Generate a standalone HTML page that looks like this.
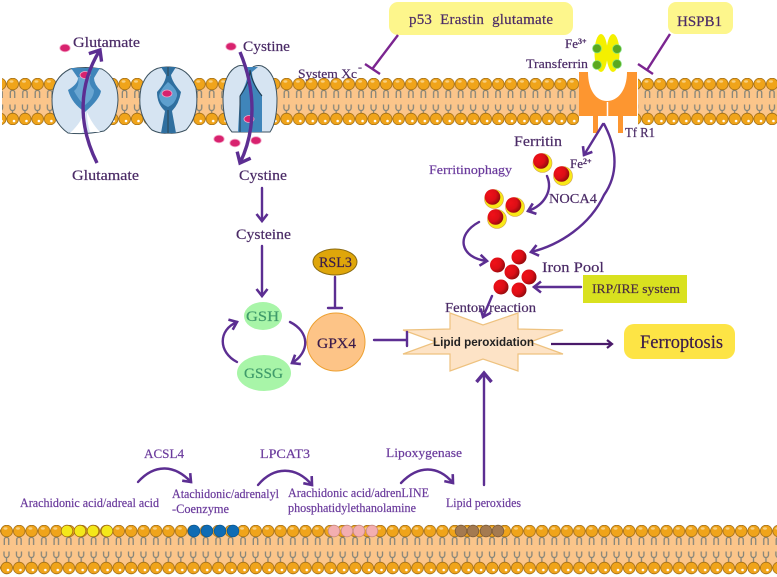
<!DOCTYPE html>
<html><head><meta charset="utf-8"><style>
html,body{margin:0;padding:0;background:#fff}
svg{display:block}
text{font-family:"Liberation Serif",serif;font-size:15px;fill:#4a2a66;stroke:#4a2a66;stroke-width:.2}
.l{fill:#6a3a9c;stroke:#6a3a9c;font-size:13px}
.a{fill:none;stroke:#5c2e92;stroke-width:2.4;stroke-linecap:round}
</style></head><body>
<svg width="777" height="577" viewBox="0 0 777 577" xmlns="http://www.w3.org/2000/svg">
<defs>
<marker id="m" markerUnits="userSpaceOnUse" markerWidth="16" markerHeight="16" refX="9" refY="7" orient="auto"><path d="M2 1.500L9 7L2 12.500" fill="none" stroke="#5c2e92" stroke-width="2.600"/></marker>
<marker id="mb" markerUnits="userSpaceOnUse" markerWidth="20" markerHeight="20" refX="12" refY="9" orient="auto"><path d="M3 1.500L12 9L3 16.500" fill="none" stroke="#5c2e92" stroke-width="3.400"/></marker>
<marker id="md" markerUnits="userSpaceOnUse" markerWidth="12" markerHeight="12" refX="7" refY="5" orient="auto"><path d="M2 1L7 5L2 9" fill="none" stroke="#4a1a6a" stroke-width="2.200"/></marker>
<radialGradient id="r" cx=".3" cy=".35" r=".85"><stop offset="0" stop-color="#f01018"/><stop offset=".5" stop-color="#dc0e16"/><stop offset="1" stop-color="#740808"/></radialGradient>
<pattern id="lip" patternUnits="userSpaceOnUse" width="12.45" height="47" patternTransform="translate(6.5 78)">
<rect x="0" y="6" width="12.45" height="35" fill="#fbc58a"/>
<g fill="none" stroke="#85857a" stroke-width="1.300">
<path d="M3.800 20V14.500a2.200 2.200 0 0 1 4.400 0V20"/>
<path d="M3.500 26.500V30a2.500 2.500 0 0 0 5 0V26.500M6 32.500V35"/>
<path d="M6 11V12"/>
</g>
<circle cx="6.200" cy="6" r="5.800" fill="#f0a41a" stroke="#a06c14" stroke-width=".8"/>
<circle cx="6.200" cy="41" r="5.800" fill="#f0a41a" stroke="#a06c14" stroke-width=".8"/>
<ellipse cx="5" cy="3.500" rx="2" ry="1.200" fill="#f8d080"/>
<circle cx="7.500" cy="43" r="1.300" fill="#fff"/>
</pattern>
<pattern id="lip2" patternUnits="userSpaceOnUse" width="12.45" height="52" patternTransform="translate(0.500 525)">
<rect x="0" y="6" width="12.45" height="37" fill="#fbc58a"/>
<g fill="none" stroke="#85857a" stroke-width="1.300">
<path d="M3.800 20V14.500a2.200 2.200 0 0 1 4.400 0V20"/>
<path d="M3.500 26.500V30a2.500 2.500 0 0 0 5 0V26.500M6 32.500V37"/>
</g>
<circle cx="6.200" cy="6" r="5.800" fill="#f0a41a" stroke="#a06c14" stroke-width=".8"/>
<circle cx="6.200" cy="43" r="5.800" fill="#f0a41a" stroke="#a06c14" stroke-width=".8"/>
<ellipse cx="5" cy="3.500" rx="2" ry="1.200" fill="#f8d080"/>
<circle cx="7.500" cy="45" r="1.300" fill="#fff"/>
</pattern>
</defs>

<!-- top membrane -->
<rect x="2" y="78" width="775" height="47" fill="url(#lip)"/>
<!-- bottom membrane -->
<rect x="0" y="525" width="777" height="50" fill="url(#lip2)"/>
<g stroke="#a06c14" stroke-width=".8">
<circle cx="67" cy="531" r="5.800" fill="#f4e81a"/><circle cx="80" cy="531" r="5.800" fill="#f4e81a"/><circle cx="93" cy="531" r="5.800" fill="#f4e81a"/><circle cx="107" cy="531" r="5.800" fill="#f4e81a"/>
<g fill="#0f6cb4" stroke="#0a5a98"><circle cx="194" cy="531" r="5.800"/><circle cx="207" cy="531" r="5.800"/><circle cx="220" cy="531" r="5.800"/><circle cx="233" cy="531" r="5.800"/></g>
<g fill="#f3aeb0" stroke="#c88a80"><circle cx="334" cy="531" r="5.800"/><circle cx="347" cy="531" r="5.800"/><circle cx="359" cy="531" r="5.800"/><circle cx="372" cy="531" r="5.800"/></g>
<g fill="#a47a50" stroke="#7a5a38"><circle cx="461" cy="531" r="5.800"/><circle cx="473" cy="531" r="5.800"/><circle cx="486" cy="531" r="5.800"/><circle cx="498" cy="531" r="5.800"/></g>
</g>

<!-- channel 1 -->
<g>
<path d="M70 69Q85 66 102 69Q118 78 118 100Q117 122 104 131Q85 135 68 133Q52 122 52 100Q52 78 70 69Z" fill="#d6e4f2" stroke="#3c5260" stroke-width="1"/>
<path d="M71 68H100L94 78Q94 84 101 91Q100 99 85 112Q72 104 68 90Q78 84 78 78Z" fill="#3f85ba"/>
<path d="M78 77Q80 86 74 91Q80 102 85 105Q94 98 94 90Q88 84 90 77Z" fill="#6aa6d2"/>
<path d="M85 112Q80 124 70 133H82Q88 124 85 112ZM87 112Q92 124 100 132H90Q87 122 87 112Z" fill="#fff"/>
</g>
<!-- channel 2 -->
<g>
<path d="M168 67Q148 66 141 88Q136 115 152 130Q160 134 168 133Q177 134 186 130Q200 115 196 88Q188 66 168 67Z" fill="#d6e4f2" stroke="#3c5260" stroke-width="1"/>
<path d="M161 67H176L171 75Q172 82 181 92Q179 104 172 111L176 133H161L165 111Q157 104 157 92Q166 82 166 75Z" fill="#2f6f9f"/>
<path d="M168 82Q178 90 177 96Q175 104 168 107Q160 104 159 96Q160 90 168 82Z" fill="#5d9fce"/>
<path d="M168 67V76M168 110V133" stroke="#2c4450" stroke-width="1"/>
</g>
<!-- channel 3 -->
<g>
<path d="M238 66Q224 72 223 98Q223 122 232 132H270Q277 122 277 98Q276 72 262 66Q254 64 250 70Q244 64 238 66Z" fill="#d6e4f2" stroke="#3c5260" stroke-width="1"/>
<path d="M244 67H258L252 72Q252 82 262 95L262 132H238L240 95Q247 84 248 72Z" fill="#3f85ba"/>
<path d="M250 70Q250 82 240 96V132M250 70Q252 84 262 96" fill="none" stroke="#20384a" stroke-width="1"/>
</g>

<!-- pink molecules -->
<g fill="#d8226e" stroke="#f4a6c8" stroke-width=".8">
<ellipse cx="65" cy="48" rx="5.200" ry="3.800"/><ellipse cx="85" cy="75" rx="5" ry="3.500"/><ellipse cx="167" cy="93.500" rx="5" ry="3.500"/><ellipse cx="231" cy="46.500" rx="5.200" ry="3.800"/><ellipse cx="249" cy="119" rx="5" ry="3.500"/><ellipse cx="219" cy="139" rx="5.200" ry="3.800"/><ellipse cx="235" cy="143" rx="5.200" ry="3.800"/><ellipse cx="256" cy="140.500" rx="5.200" ry="3.800"/>
</g>

<!-- transporter arrows -->
<path d="M97 163C78 125 78 85 100 50" fill="none" stroke="#5c2e92" stroke-width="3.400" marker-end="url(#mb)"/>
<path d="M240 52C256 90 256 130 240 163" fill="none" stroke="#5c2e92" stroke-width="3.400" marker-end="url(#mb)"/>

<!-- labels top -->
<text x="73" y="47" textLength="67" lengthAdjust="spacingAndGlyphs">Glutamate</text>
<text x="243" y="51" textLength="47" lengthAdjust="spacingAndGlyphs">Cystine</text>
<text x="72" y="180" textLength="67" lengthAdjust="spacingAndGlyphs">Glutamate</text>
<text x="239" y="180" textLength="48" lengthAdjust="spacingAndGlyphs">Cystine</text>
<text x="236" y="239" textLength="55" lengthAdjust="spacingAndGlyphs">Cysteine</text>
<text x="298" y="78" textLength="59" lengthAdjust="spacingAndGlyphs" style="font-size:13px">System Xc</text>
<text x="358" y="71" style="font-size:12px">-</text>

<!-- yellow boxes -->
<rect x="389" y="2" width="184" height="33" rx="9" fill="#fdf68c"/>
<text x="409" y="24" textLength="144" lengthAdjust="spacing">p53&#160;&#160;Erastin&#160;&#160;glutamate</text>
<rect x="668" y="2" width="65" height="32" rx="8" fill="#fdf68c"/>
<text x="677" y="26" textLength="45" lengthAdjust="spacingAndGlyphs">HSPB1</text>

<path d="M398 35L373 68M365 64L380 74" fill="none" stroke="#7b2590" stroke-width="2.400"/>
<path d="M670 34L647 70M638 64L653 74" fill="none" stroke="#7b2590" stroke-width="2.400"/>

<!-- transferrin -->
<ellipse cx="601" cy="53" rx="6.500" ry="19" fill="#f4f000"/>
<ellipse cx="613" cy="53" rx="6.500" ry="19" fill="#f4f000"/>
<g fill="#5aa820" stroke="#7ee07a" stroke-width=".8"><circle cx="597" cy="48.500" r="4.400"/><circle cx="617" cy="49" r="4.400"/><circle cx="597" cy="65" r="4.400"/><circle cx="617" cy="64" r="4.400"/></g>
<text x="565" y="48" style="font-size:13px">Fe<tspan dy="-4" style="font-size:8px;font-weight:bold">3+</tspan></text>
<text x="526" y="68" textLength="62" lengthAdjust="spacingAndGlyphs" style="font-size:13px">Transferrin</text>

<!-- TfR1 -->
<rect x="579" y="72" width="59" height="54" fill="#fff"/>
<path d="M579 72H588C588 90 596 101 607 101C618 101 627 90 627 72H637V116H579Z" fill="#fd9630"/>
<rect x="593" y="116" width="5" height="17" fill="#fd9630"/>
<rect x="618" y="116" width="5" height="17" fill="#fd9630"/>
<path d="M607.500 102V120" stroke="#fff" stroke-width="1.500"/>
<text x="625" y="137" textLength="30" lengthAdjust="spacingAndGlyphs" style="font-size:14px">Tf R1</text>

<!-- iron section -->
<text x="514" y="146" textLength="48" lengthAdjust="spacingAndGlyphs">Ferritin</text>
<text x="570" y="168" style="font-size:13px">Fe<tspan dy="-4" style="font-size:8px;font-weight:bold">2+</tspan></text>
<text x="429" y="174" textLength="83" lengthAdjust="spacingAndGlyphs" class="l">Ferritinophagy</text>
<text x="549" y="203" textLength="48" lengthAdjust="spacingAndGlyphs" style="font-size:14px">NOCA4</text>
<text x="542" y="272" textLength="62" lengthAdjust="spacingAndGlyphs">Iron Pool</text>

<g>
<g fill="#f8e818" stroke="#d0a050" stroke-width=".6"><circle cx="542.500" cy="163" r="9.500"/><circle cx="563" cy="176" r="9.500"/><circle cx="494" cy="199" r="9.500"/><circle cx="515" cy="207" r="9.500"/><circle cx="497" cy="219" r="9.500"/></g>
<g fill="url(#r)"><circle cx="541" cy="161" r="7.800"/><circle cx="561.500" cy="174" r="7.800"/><circle cx="492.500" cy="197" r="7.800"/><circle cx="513.500" cy="205" r="7.800"/><circle cx="495.500" cy="217" r="7.800"/></g>
<g fill="url(#r)"><circle cx="497.500" cy="265" r="7.500"/><circle cx="519" cy="257" r="7.500"/><circle cx="512" cy="272" r="7.500"/><circle cx="529" cy="277" r="7.500"/><circle cx="501" cy="287" r="7.500"/><circle cx="519" cy="290" r="7.500"/></g>
</g>

<path class="a" d="M603 124L584 155" marker-end="url(#m)"/>
<path class="a" d="M604 124C618 150 618 175 604 195C590 225 560 245 531 252" marker-end="url(#m)"/>
<path class="a" d="M547 176C553 190 545 205 528 211" marker-end="url(#m)"/>
<path class="a" d="M479 222C455 235 460 258 487 261" marker-end="url(#m)"/>

<rect x="583" y="275" width="104" height="28" fill="#d9e11f"/>
<text x="592" y="293" textLength="88" lengthAdjust="spacingAndGlyphs" style="font-size:13px;fill:#4a2c40;stroke:#4a2c40">IRP/IRE system</text>
<path class="a" d="M581 287H534" marker-end="url(#m)"/>

<!-- star -->
<path d="M450 313L483 325L518 313V329L563 330L530 342L563 354L518 354V371L483 359L450 371V354L403 354L436 342L403 330L450 329Z" fill="#fde3c6" stroke="#eec27f" stroke-width="1.200"/>
<text x="433" y="346" textLength="101" lengthAdjust="spacingAndGlyphs" style="font-family:'Liberation Sans',sans-serif;font-weight:bold;font-size:12px;fill:#222;stroke:none">Lipid peroxidation</text>
<text x="445" y="312" textLength="91" lengthAdjust="spacingAndGlyphs" style="font-size:13.500px">Fenton reaction</text>
<path class="a" d="M492 296L483 317" marker-end="url(#m)"/>
<path d="M551 344H612" fill="none" stroke="#4a1a6a" stroke-width="2.200" marker-end="url(#md)"/>

<rect x="624" y="324" width="111" height="35" rx="10" fill="#fde445"/>
<text x="640" y="348" textLength="83" lengthAdjust="spacingAndGlyphs" style="font-size:19px;fill:#3a1a4a;stroke:#3a1a4a">Ferroptosis</text>

<!-- GSH cycle -->
<path class="a" d="M262 188V221" marker-end="url(#m)"/>
<path class="a" d="M262 246V296" marker-end="url(#m)"/>
<ellipse cx="263" cy="316" rx="19" ry="14" fill="#a8f5a8"/>
<text x="246" y="321" textLength="33" lengthAdjust="spacingAndGlyphs" style="fill:#3f9a6a;stroke:#3f9a6a">GSH</text>
<ellipse cx="264" cy="373" rx="27" ry="18" fill="#a8f5a8"/>
<text x="244" y="378" textLength="39" lengthAdjust="spacingAndGlyphs" style="fill:#3f9a6a;stroke:#3f9a6a">GSSG</text>
<path class="a" d="M290 322C310 332 310 352 292 363" marker-end="url(#m)"/>
<path class="a" d="M237 362C218 352 218 330 237 322" marker-end="url(#m)"/>

<circle cx="336" cy="342" r="29" fill="#fdc487" stroke="#eda030" stroke-width="1"/>
<text x="317" y="348" textLength="39" lengthAdjust="spacingAndGlyphs" style="fill:#3a1a4a;stroke:#3a1a4a">GPX4</text>
<ellipse cx="335" cy="262" rx="22" ry="13" fill="#dfa60a" stroke="#8a6a10" stroke-width="1"/>
<text x="319" y="267" textLength="33" lengthAdjust="spacingAndGlyphs" style="fill:#3a1a4a;stroke:#3a1a4a">RSL3</text>
<path class="a" d="M335 277V308M328 308H342"/>
<path class="a" d="M374 340H407M407 332V346"/>

<!-- bottom -->
<path class="a" d="M484 485V373" marker-end="url(#mb)"/>
<text x="144" y="458" textLength="40" lengthAdjust="spacingAndGlyphs" class="l">ACSL4</text>
<text x="260" y="458" textLength="50" lengthAdjust="spacingAndGlyphs" class="l">LPCAT3</text>
<text x="386" y="457" textLength="76" lengthAdjust="spacingAndGlyphs" class="l">Lipoxygenase</text>
<path class="a" d="M138 482C155 463 175 465 191 482" marker-end="url(#m)"/>
<path class="a" d="M258 485C274 466 296 466 312 485" marker-end="url(#m)"/>
<path class="a" d="M401 483C418 465 438 465 453 483" marker-end="url(#m)"/>
<text x="20" y="507" textLength="139" lengthAdjust="spacingAndGlyphs" class="l">Arachidonic acid/adreal acid</text>
<text x="172" y="498" textLength="107" lengthAdjust="spacingAndGlyphs" class="l">Atachidonic/adrenalyl</text>
<text x="172" y="513" textLength="57" lengthAdjust="spacingAndGlyphs" class="l">-Coenzyme</text>
<text x="288" y="497" textLength="141" lengthAdjust="spacingAndGlyphs" class="l">Arachidonic acid/adrenLINE</text>
<text x="288" y="512" textLength="128" lengthAdjust="spacingAndGlyphs" class="l">phosphatidylethanolamine</text>
<text x="446" y="507" textLength="75" lengthAdjust="spacingAndGlyphs" class="l">Lipid peroxides</text>
</svg>
</body></html>
